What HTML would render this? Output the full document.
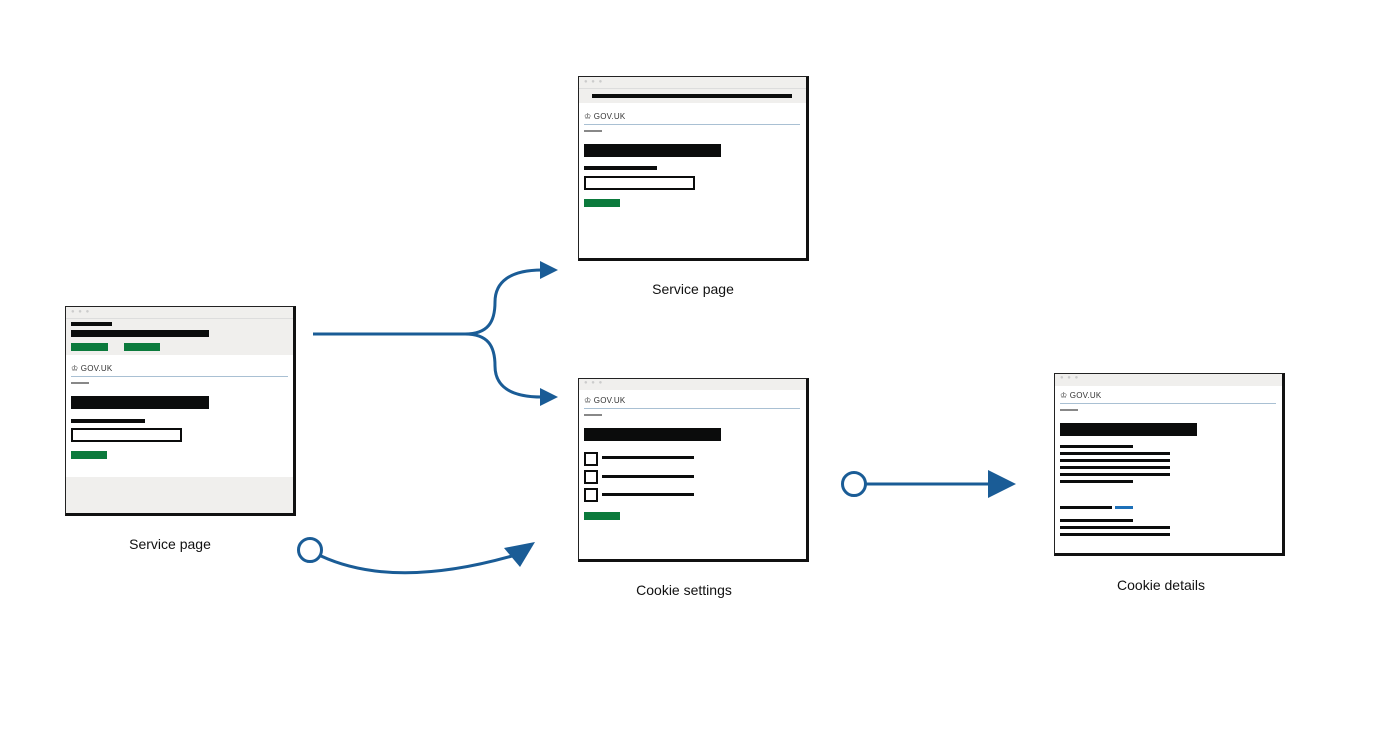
<!DOCTYPE html>
<html><head><meta charset="utf-8"><style>
body{margin:0;width:1377px;height:742px;background:#fff;position:relative;overflow:hidden;font-family:"Liberation Sans",sans-serif}
.f{position:absolute;background:#fff;border-left:1px solid #222;border-top:1px solid #222;border-right:3px solid #111;border-bottom:3px solid #111;box-sizing:border-box}
.a{position:absolute}
.k{position:absolute;background:#0b0c0c}
.g{position:absolute;background:#0b7a3c}
.gr{position:absolute;background:#f0efed}
.t{position:absolute;font-size:8px;color:#333;letter-spacing:.2px}
.ln{position:absolute;height:1px;background:#a9c0d3}
.d{position:absolute;height:2px;background:#888}
.cb{position:absolute;width:10px;height:10px;border:2px solid #0b0c0c}
.lab{position:absolute;font-size:14px;color:#111;transform:translateX(-50%);white-space:nowrap}
.bx{position:absolute;border:2px solid #0b0c0c;box-sizing:border-box;background:#fff}
.dots{position:absolute;font-size:6px;color:#ccc;letter-spacing:1px}
</style></head><body>

<!-- Left frame -->
<div class="f" style="left:65px;top:306px;width:231px;height:210px"></div>
<div class="gr" style="left:66px;top:307px;width:227px;height:48px"></div>
<div class="a" style="left:66px;top:318px;width:227px;height:1px;background:#ddd"></div>
<div class="dots" style="left:71px;top:309px">● ● ●</div>
<div class="gr" style="left:66px;top:477px;width:227px;height:36px"></div>
<div class="k" style="left:71px;top:322px;width:41px;height:4px"></div>
<div class="k" style="left:71px;top:330px;width:138px;height:7px"></div>
<div class="g" style="left:71px;top:343px;width:37px;height:8px"></div>
<div class="g" style="left:124px;top:343px;width:36px;height:8px"></div>
<div class="t" style="left:71px;top:364px">♔ GOV.UK</div>
<div class="ln" style="left:71px;top:376px;width:217px"></div>
<div class="d" style="left:71px;top:382px;width:18px"></div>
<div class="k" style="left:71px;top:396px;width:138px;height:13px"></div>
<div class="k" style="left:71px;top:419px;width:74px;height:4px"></div>
<div class="bx" style="left:71px;top:428px;width:111px;height:14px"></div>
<div class="g" style="left:71px;top:451px;width:36px;height:8px"></div>

<!-- Top frame -->
<div class="f" style="left:578px;top:76px;width:231px;height:185px"></div>
<div class="gr" style="left:579px;top:77px;width:227px;height:26px"></div>
<div class="a" style="left:579px;top:88px;width:227px;height:1px;background:#ddd"></div>
<div class="dots" style="left:584px;top:79px">● ● ●</div>
<div class="k" style="left:592px;top:94px;width:200px;height:4px"></div>
<div class="t" style="left:584px;top:112px">♔ GOV.UK</div>
<div class="ln" style="left:584px;top:124px;width:216px"></div>
<div class="d" style="left:584px;top:130px;width:18px"></div>
<div class="k" style="left:584px;top:144px;width:137px;height:13px"></div>
<div class="k" style="left:584px;top:166px;width:73px;height:4px"></div>
<div class="bx" style="left:584px;top:176px;width:111px;height:14px"></div>
<div class="g" style="left:584px;top:199px;width:36px;height:8px"></div>

<!-- Cookie settings frame -->
<div class="f" style="left:578px;top:378px;width:231px;height:184px"></div>
<div class="gr" style="left:579px;top:379px;width:227px;height:11px"></div>
<div class="dots" style="left:584px;top:380px">● ● ●</div>
<div class="t" style="left:584px;top:396px">♔ GOV.UK</div>
<div class="ln" style="left:584px;top:408px;width:216px"></div>
<div class="d" style="left:584px;top:414px;width:18px"></div>
<div class="k" style="left:584px;top:428px;width:137px;height:13px"></div>
<div class="cb" style="left:584px;top:452px"></div>
<div class="k" style="left:602px;top:456px;width:92px;height:3px"></div>
<div class="cb" style="left:584px;top:470px"></div>
<div class="k" style="left:602px;top:475px;width:92px;height:3px"></div>
<div class="cb" style="left:584px;top:488px"></div>
<div class="k" style="left:602px;top:493px;width:92px;height:3px"></div>
<div class="g" style="left:584px;top:512px;width:36px;height:8px"></div>

<!-- Cookie details frame -->
<div class="f" style="left:1054px;top:373px;width:231px;height:183px"></div>
<div class="gr" style="left:1055px;top:374px;width:227px;height:12px"></div>
<div class="dots" style="left:1060px;top:375px">● ● ●</div>
<div class="t" style="left:1060px;top:391px">♔ GOV.UK</div>
<div class="ln" style="left:1060px;top:403px;width:216px"></div>
<div class="d" style="left:1060px;top:409px;width:18px"></div>
<div class="k" style="left:1060px;top:423px;width:137px;height:13px"></div>
<div class="k" style="left:1060px;top:445px;width:73px;height:3px"></div>
<div class="k" style="left:1060px;top:452px;width:110px;height:3px"></div>
<div class="k" style="left:1060px;top:459px;width:110px;height:3px"></div>
<div class="k" style="left:1060px;top:466px;width:110px;height:3px"></div>
<div class="k" style="left:1060px;top:473px;width:110px;height:3px"></div>
<div class="k" style="left:1060px;top:480px;width:73px;height:3px"></div>
<div class="k" style="left:1060px;top:506px;width:52px;height:3px"></div>
<div class="a" style="left:1115px;top:506px;width:18px;height:3px;background:#1d70b8"></div>
<div class="k" style="left:1060px;top:519px;width:73px;height:3px"></div>
<div class="k" style="left:1060px;top:526px;width:110px;height:3px"></div>
<div class="k" style="left:1060px;top:533px;width:110px;height:3px"></div>

<!-- Labels -->
<div class="lab" style="left:170px;top:536px">Service page</div>
<div class="lab" style="left:693px;top:281px">Service page</div>
<div class="lab" style="left:684px;top:582px">Cookie settings</div>
<div class="lab" style="left:1161px;top:577px">Cookie details</div>

<svg class="a" style="left:0;top:0" width="1377" height="742">
<g fill="none" stroke="#1a5c96" stroke-width="3">
<path d="M313,334 H465 C488,334 495,322 495,302 C495,282 510,270 542,270"/>
<path d="M465,334 C488,334 495,346 495,366 C495,386 510,397 542,397"/>
<circle cx="310" cy="550" r="11.5"/>
<path d="M321,556 C360,574 420,582 512,556"/>
<circle cx="854" cy="484" r="11.5"/>
<path d="M866,484 H992"/>
</g>
<g fill="#1a5c96">
<polygon points="540,261 558,270 540,279"/>
<polygon points="540,388 558,397 540,406"/>
<polygon points="535,542 504,548 520,567"/>
<polygon points="988,470 1016,484 988,498"/>
</g>
</svg>
</body></html>
